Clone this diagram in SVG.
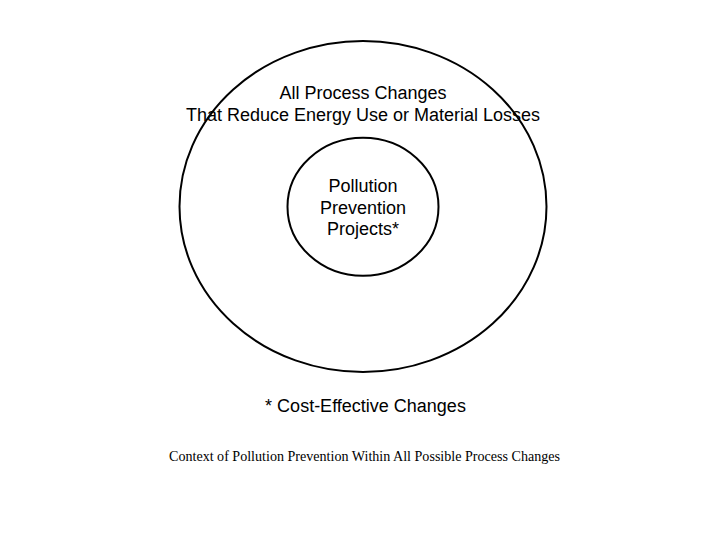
<svg xmlns="http://www.w3.org/2000/svg" width="720" height="540" viewBox="0 0 720 540">
<style>
.ring{fill:none;stroke:#000;stroke-width:2}
.lbl{font-family:"Liberation Sans",Arial,sans-serif;font-size:18px;fill:#000;text-anchor:middle}
.cap{font-family:"Liberation Serif","Times New Roman",serif;font-size:14px;fill:#000;text-anchor:middle}
</style>
<rect width="720" height="540" fill="#fff"/>
<g id="outer">
<ellipse class="ring" cx="363" cy="206.5" rx="183.5" ry="165.5"/>
<text class="lbl" x="363" y="98.5">All Process Changes</text>
<text class="lbl" x="363" y="120.5">That Reduce Energy Use or Material Losses</text>
</g>
<g id="inner">
<ellipse class="ring" cx="363" cy="206.7" rx="75.5" ry="69"/>
<text class="lbl" x="363" y="192">Pollution</text>
<text class="lbl" x="363" y="213.5">Prevention</text>
<text class="lbl" x="363" y="235">Projects*</text>
</g>
<g id="connectors"></g>
<g id="notes">
<text class="lbl" x="365.5" y="411.5">* Cost-Effective Changes</text>
<text class="cap" x="364.5" y="461" textLength="391" lengthAdjust="spacingAndGlyphs">Context of Pollution Prevention Within All Possible Process Changes</text>
</g>
</svg>
